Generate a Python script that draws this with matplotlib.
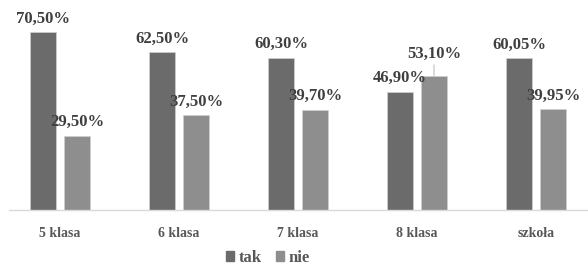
import numpy as np
import matplotlib.pyplot as plt
from matplotlib.patches import Patch

categories = ['5 klasa', '6 klasa', '7 klasa', '8 klasa', 'szkoła']
tak = [70.50, 62.50, 60.30, 46.90, 60.05]
nie = [29.50, 37.50, 39.70, 53.10, 39.95]
series_names = ['tak', 'nie']

c_tak = '#6b6b6b'
c_nie = '#8e8e8e'
txt = '#3f3f3f'

plt.rcParams['font.family'] = ['Liberation Serif', 'DejaVu Serif']
plt.rcParams['font.weight'] = 'bold'

fig = plt.figure(figsize=(5.88, 2.67), dpi=100)
ax = fig.add_axes([0.5 / 588, 57 / 267, 595 / 588, 210 / 267])

x = np.arange(len(categories))
w = 0.225
off = 0.143
ax.bar(x - off, tak, w, color=c_tak, edgecolor='#d0d0d0', linewidth=0.5)
ax.bar(x + off, nie, w, color=c_nie, edgecolor='#d0d0d0', linewidth=0.5)

ax.set_xlim(-0.5, len(categories) - 0.5)
ax.set_ylim(0, 83.2)

def fmt(v):
    return f'{v:.2f}%'.replace('.', ',')

for i in range(len(categories)):
    ax.annotate(fmt(tak[i]), (x[i] - off, tak[i]), xytext=(0, 4), textcoords='offset points',
                ha='center', va='bottom', fontsize=12, color=txt, fontweight='bold')
    if i == 3:
        # label lifted above the neighbour with a short leader line
        ax.annotate(fmt(nie[i]), (x[i] + off, nie[i]), xytext=(0, 10), textcoords='offset points',
                    ha='center', va='bottom', fontsize=12, color=txt, fontweight='bold',
                    arrowprops=dict(arrowstyle='-', color='#bfbfbf', lw=0.8, shrinkA=0, shrinkB=0))
    else:
        ax.annotate(fmt(nie[i]), (x[i] + off, nie[i]), xytext=(0, 4), textcoords='offset points',
                    ha='center', va='bottom', fontsize=12, color=txt, fontweight='bold')

for s in ['top', 'right', 'left']:
    ax.spines[s].set_visible(False)
ax.spines['bottom'].set_color('#d9d9d9')
ax.spines['bottom'].set_linewidth(1)
ax.spines['bottom'].set_bounds(-0.43, len(categories) - 0.5)
ax.set_yticks([])
ax.set_xticks(x)
ax.set_xticklabels(categories, fontsize=10, color='#585858', fontweight='bold')
ax.tick_params(axis='x', length=0, pad=12)

handles = [Patch(color=c_tak), Patch(color=c_nie)]
fig.legend(handles, series_names, loc='center', bbox_to_anchor=(268 / 588, 1 - 258 / 267),
           ncol=2, frameon=False, fontsize=12, handlelength=0.5, handleheight=0.5,
           handletextpad=0.3, columnspacing=0.8, labelcolor='#585858')

fig.savefig('out.png', dpi=100)
